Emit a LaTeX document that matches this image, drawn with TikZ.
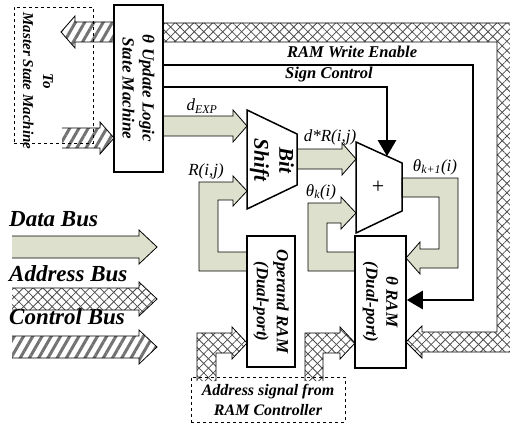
\documentclass[tikz,border=0pt]{standalone}
\usepackage{fontspec}
\setmainfont{Liberation Serif}
\usetikzlibrary{arrows.meta, patterns.meta, calc}

\definecolor{busgreen}{RGB}{221,224,205}
\newcommand{\bbi}{\bfseries\itshape}
% bus arrow sizes: half shaft, half head, head length
\newcommand{\hs}{10}
\newcommand{\hh}{16}
\newcommand{\hl}{14}
\tikzstyle{block} = [rectangle, draw, line width=1.5pt, inner sep=0pt]
\tikzstyle{dashbox} = [rectangle, draw, dashed, line width=0.7pt, inner sep=0pt]
\tikzstyle{boxtext} = [rotate=-90, align=center, inner sep=0pt, font=\fontsize{17}{20}\selectfont\bbi]
\tikzstyle{unit} = [draw, line width=1.5pt, line join=miter]
\tikzstyle{wire} = [line width=2.6pt, -{Triangle[length=16pt,width=18pt]}]
\tikzstyle{wirelabel} = [anchor=base west, inner sep=0pt, font=\fontsize{16.5}{18}\selectfont\bbi]
\tikzstyle{buslabel} = [inner sep=0pt, font=\fontsize{17}{18}\selectfont\itshape]
\tikzstyle{legend} = [anchor=base west, inner sep=0pt, font=\fontsize{23}{25}\selectfont\bbi]
\tikzstyle{busline} = [draw, line width=0.8pt, line join=miter]
\tikzstyle{databus} = [fill=busgreen]
\tikzstyle{addrbus} = [pattern={Lines[angle=45,distance=6.7pt,line width=0.8pt]}, pattern color=black!70, postaction={pattern={Lines[angle=-45,distance=6.7pt,line width=0.8pt]}, pattern color=black!70}]
\tikzstyle{ctrlbus} = [pattern={Lines[angle=60,distance=8pt,line width=3pt]}, pattern color=black!55]

% straight bus arrow pointing right: style, start x, tip x, centre y (start end left open)
\newcommand{\fatright}[4]{%
  \fill[#1] (#2,#4-\hs) -- (#3-\hl,#4-\hs) -- (#3-\hl,#4-\hh) -- (#3,#4) -- (#3-\hl,#4+\hh) -- (#3-\hl,#4+\hs) -- (#2,#4+\hs) -- cycle;
  \draw[busline] (#2,#4-\hs) -- (#3-\hl,#4-\hs) -- (#3-\hl,#4-\hh) -- (#3,#4) -- (#3-\hl,#4+\hh) -- (#3-\hl,#4+\hs) -- (#2,#4+\hs);}

\begin{document}
\begin{tikzpicture}[x=1pt, y=-1pt]
\useasboundingbox (0,0) rectangle (510,425);

% Buses
\fill[addrbus] (163,23) -- (512,23) -- (512,352) -- (422,352) -- (422,358) -- (406,342) -- (422,326) -- (422,332) -- (497,332) -- (497,42) -- (163,42) -- cycle;
\draw[busline] (163,23) -- (512,23) -- (512,352) -- (422,352) -- (422,358) -- (406,342) -- (422,326) -- (422,332) -- (497,332) -- (497,42) -- (163,42);

\fill[ctrlbus] (114,22) -- (75,22) -- (75,16) -- (61,32) -- (75,48) -- (75,42) -- (114,42) -- cycle;
\draw[busline] (114,22) -- (75,22) -- (75,16) -- (61,32) -- (75,48) -- (75,42) -- (114,42);
\fatright{ctrlbus}{62}{114}{138}

\fatright{databus}{163}{247}{126}
\fatright{databus}{297}{356}{159}

% R(i,j): operand RAM -> bit shift
\filldraw[databus, busline] (247,252) -- (218,252) -- (218,200) -- (233,200) -- (233,206) -- (247,191) -- (233,176) -- (233,182) -- (199,182) -- (199,271) -- (247,271) -- cycle;
% theta_k(i): theta RAM -> adder
\filldraw[databus, busline] (355,252) -- (327,252) -- (327,223) -- (341,223) -- (341,229) -- (356,213) -- (341,197) -- (341,203) -- (308,203) -- (308,271) -- (355,271) -- cycle;
% theta_k+1(i): adder -> theta RAM
\filldraw[databus, busline] (402,178) -- (458,178) -- (458,268) -- (420,268) -- (420,274) -- (406,258) -- (420,242) -- (420,249) -- (439,249) -- (439,197) -- (402,197) -- cycle;

% addresses from RAM controller
\fill[addrbus] (216,381) -- (216,353) -- (232,353) -- (232,359) -- (247,343) -- (232,327) -- (232,333) -- (197,333) -- (197,381) -- cycle;
\draw[busline] (216,381) -- (216,353) -- (232,353) -- (232,359) -- (247,343) -- (232,327) -- (232,333) -- (197,333) -- (197,381);
\fill[addrbus] (323,381) -- (323,353) -- (340,353) -- (340,359) -- (355,343) -- (340,327) -- (340,333) -- (305,333) -- (305,381) -- cycle;
\draw[busline] (323,381) -- (323,353) -- (340,353) -- (340,359) -- (355,343) -- (340,327) -- (340,333) -- (305,333) -- (305,381);

% Blocks
\node[block, minimum width=49pt, minimum height=167pt] (upd) at (138.5,88.5) {};
\node[boxtext] (updtxt) at (upd) {θ Update Logic\\State Machine};
\node[block, minimum width=48pt, minimum height=131pt] (opram) at (271,301.5) {};
\node[boxtext] (opramtxt) at (opram) {Operand RAM\\(Dual-port)};
\node[block, minimum width=51pt, minimum height=132pt] (thram) at (380.5,302) {};
\node[boxtext] (thramtxt) at (thram) {θ RAM\\(Dual-port)};
\node[dashbox, minimum width=79pt, minimum height=136pt] (master) at (53.5,75) {};
\node[boxtext, font=\fontsize{15}{20}\selectfont\bbi] (mastertxt) at (38,81) {To\\Master State Machine};
\node[dashbox, minimum width=154pt, minimum height=45pt, align=center, font=\fontsize{16}{20}\selectfont\bbi] (addrc) at (268,399.5) {Address signal from\\RAM Controller};

% Bit shift and adder
\draw[unit] (247,110) -- (297,134) -- (297,185) -- (247,209) -- cycle;
\node[boxtext, font=\fontsize{21}{25}\selectfont\bbi] (shift) at (272,160) {Bit\\Shift};
\coordinate (addtl) at (356,142);
\coordinate (addtr) at (402,163);
\draw[unit] (addtl) -- (addtr) -- (402,211) -- (356,233) -- cycle;
\node[font=\fontsize{22}{22}\selectfont] (add) at (378,187) {+};

% Control wires
\draw[wire] (upd.east |- 0,65) -- (473,65) |- (thram.east |- 0,300);
\draw[wire] (upd.east |- 0,87) -| ($(addtl)!0.674!(addtr)$);
\node[wirelabel] (welbl) at (287,58) {RAM Write Enable};
\node[wirelabel] (sclbl) at (285,79) {Sign Control};

% Bus labels
\node[buslabel] (dexp) at (202,106) {d\textsubscript{EXP}};
\node[buslabel] (rij) at (206,171) {R(i,j)};
\node[buslabel] (drij) at (330,137) {d*R(i,j)};
\node[buslabel] (thk) at (321,192) {θ\textsubscript{k}(i)};
\node[buslabel] (thk1) at (435,167) {θ\textsubscript{k+1}(i)};

% Legend
\node[legend] (lgdata) at (9,226) {Data Bus};
\node[legend] (lgaddr) at (9,281) {Address Bus};
\node[legend] (lgctrl) at (9,324) {Control Bus};
{\renewcommand{\hs}{11}\renewcommand{\hh}{17}\renewcommand{\hl}{18}
\fatright{databus}{12}{157}{247}
\fatright{addrbus}{12}{157}{299}
\fatright{ctrlbus}{12}{157}{347}}

\end{tikzpicture}
\end{document}
